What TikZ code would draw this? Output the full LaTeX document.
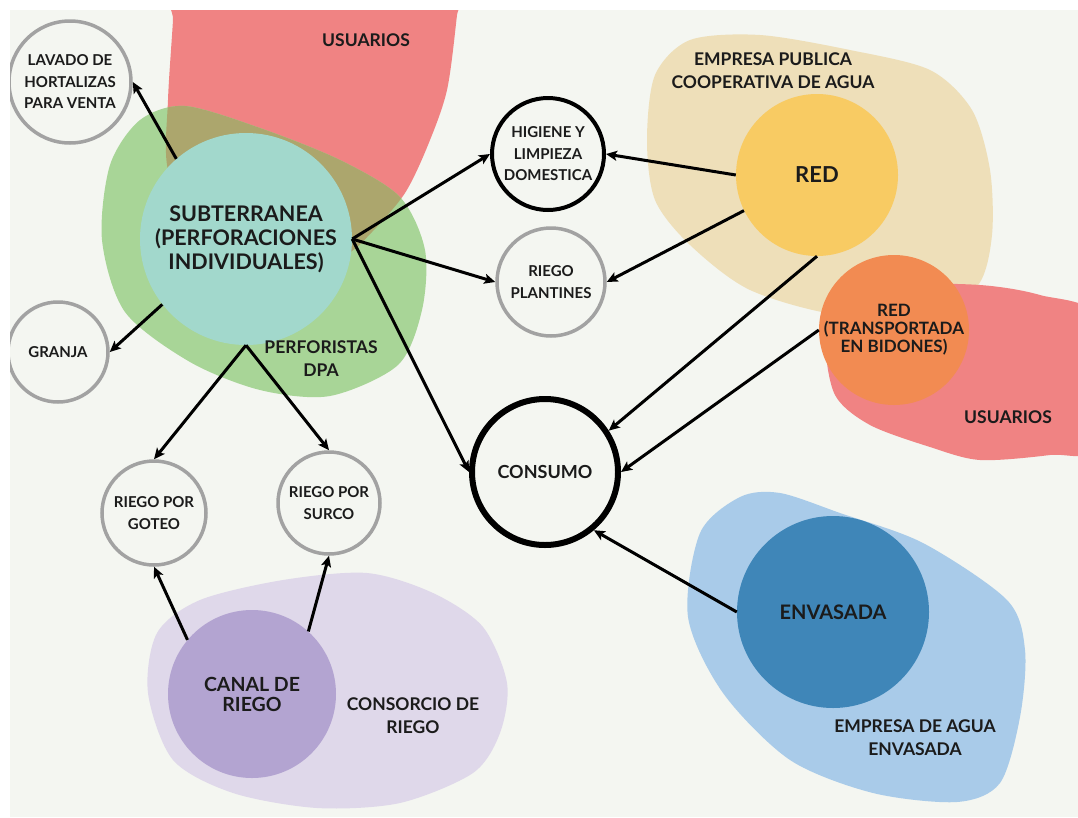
\documentclass[tikz,border=0pt]{standalone}
\usepackage{fontspec}
\setmainfont{Lato}
\usetikzlibrary{arrows.meta}

\definecolor{fondo}{HTML}{F4F6F1}
\definecolor{tinta}{HTML}{1B1B1B}
\definecolor{grisc}{HTML}{A2A2A2}
\definecolor{rosa}{HTML}{F08383}
\definecolor{verde}{HTML}{A8D597}
\definecolor{oliva}{HTML}{ACA66D}
\definecolor{turquesa}{HTML}{A2D8CC}
\definecolor{arena}{HTML}{EEDFB9}
\definecolor{amarillo}{HTML}{F8CB63}
\definecolor{naranja}{HTML}{F28B52}
\definecolor{celeste}{HTML}{A9CBE9}
\definecolor{azul}{HTML}{3F86B8}
\definecolor{lila}{HTML}{DFD8EA}
\definecolor{violeta}{HTML}{B3A4D1}

\newcommand\manchaRosa{plot[smooth cycle] coordinates {(176,-40) (462,-40) (457,15) (447,90) (428,145) (405,193) (372,232) (345,255) (300,262) (200,232) (168,170) (168,100) (173,20)}}
\newcommand\manchaVerde{plot[smooth cycle] coordinates {(185,106) (260,128) (340,160) (400,197) (425,250) (422,310) (398,365) (330,396) (260,390) (190,362) (125,312) (102,240) (110,165) (140,120)}}

\begin{document}
\begin{tikzpicture}[x=1pt, y=-1pt,
    txt/.style={font=\fontsize{15}{21.5}\selectfont\bfseries, align=center, text=tinta},
    lab/.style={font=\fontsize{17.5}{23}\selectfont\bfseries, align=center, text=tinta},
    big/.style={font=\fontsize{21.5}{24}\selectfont\bfseries, align=center, text=tinta},
    gris/.style={circle, draw=grisc, line width=3.5pt, fill=fondo, inner sep=0pt, txt},
    negro/.style={circle, draw=black, line width=4pt, fill=fondo, inner sep=0pt, txt},
    punto/.style={circle, inner sep=0pt},
    flecha/.style={-{Stealth[length=11pt,width=10pt,inset=2.5pt]}, line width=3pt, black}]
  \useasboundingbox (0,0) rectangle (1078,817);
  \fill[white] (0,0) rectangle (1078,817);
  \fill[fondo] (10,10) rectangle (1078,817);
  \clip (10,10) rectangle (1078,817);

  \fill[rosa] \manchaRosa;
  \fill[verde] \manchaVerde;
  \begin{scope}
    \clip \manchaRosa;
    \fill[oliva] \manchaVerde;
  \end{scope}
  \fill[arena] plot[smooth cycle] coordinates {(655,75) (690,40) (760,35) (850,50) (930,70) (972,110) (990,170) (992,235) (978,285) (930,310) (840,315) (750,290) (690,245) (655,200) (647,140)};
  \fill[rosa] plot[smooth cycle] coordinates {(826,340) (845,300) (900,285) (980,285) (1040,295) (1100,320) (1100,445) (1050,455) (980,460) (930,447) (870,425) (835,395)};
  \fill[celeste] plot[smooth cycle] coordinates {(780,493) (840,513) (923,543) (1007,600) (1025,650) (1020,717) (1000,783) (957,802) (873,793) (790,760) (723,693) (688,617) (700,533) (740,497)};
  \fill[lila] plot[smooth cycle] coordinates {(367,573) (433,593) (483,627) (507,683) (500,733) (473,773) (400,803) (317,808) (233,793) (173,760) (148,693) (157,633) (200,600) (283,580)};

  \node[punto, fill=turquesa, minimum size=212pt, big] (sub) at (246,239) {SUBTERRANEA\\(PERFORACIONES\\INDIVIDUALES)};
  \node[punto, fill=amarillo, minimum size=162pt, font=\fontsize{22}{24}\selectfont\bfseries, text=tinta] (red) at (817,175) {RED};
  \node[punto, fill=naranja, minimum size=150pt, font=\fontsize{17}{18}\selectfont\bfseries, align=center, text=tinta] (bid) at (894,330) {RED\\(TRANSPORTADA\\EN BIDONES)};
  \node[punto, fill=azul, minimum size=192pt, font=\fontsize{20}{22}\selectfont\bfseries, text=tinta] (env) at (833,612) {ENVASADA};
  \node[punto, fill=violeta, minimum size=168pt, font=\fontsize{19.5}{20}\selectfont\bfseries, align=center, text=tinta] (can) at (252,694) {CANAL DE\\RIEGO};

  \node[gris, minimum size=122pt] (lav) at (70,82) {LAVADO DE\\HORTALIZAS\\PARA VENTA};
  \node[gris, minimum size=100pt] (gra) at (58,352) {GRANJA};
  \node[negro, minimum size=112pt] (hig) at (548,154) {HIGIENE Y\\LIMPIEZA\\DOMESTICA};
  \node[gris, minimum size=108pt] (pla) at (551,282) {RIEGO\\PLANTINES};
  \node[negro, line width=6pt, minimum size=146pt, font=\fontsize{18}{20}\selectfont\bfseries] (con) at (545,472) {CONSUMO};
  \node[gris, minimum size=104pt] (got) at (154,513) {RIEGO POR\\GOTEO};
  \node[gris, minimum size=102pt] (sur) at (329,503) {RIEGO POR\\SURCO};

  \node[lab] (usu1) at (366,40) {USUARIOS};
  \node[lab] (per) at (321,359) {PERFORISTAS\\DPA};
  \node[lab] (emp) at (773,71) {EMPRESA PUBLICA\\COOPERATIVA DE AGUA};
  \node[lab] (usu2) at (1008,417) {USUARIOS};
  \node[lab] (eae) at (915,738) {EMPRESA DE AGUA\\ENVASADA};
  \node[lab] (cons) at (413,716) {CONSORCIO DE\\RIEGO};

  \draw[flecha] (sub.131) -- (lav.east);
  \draw[flecha] (sub.218) -- (gra.east);
  \draw[flecha] (sub.south) -- (got.north);
  \draw[flecha] (sub.south) -- (sur.north);
  \draw[flecha] (sub.east) -- (hig.west);
  \draw[flecha] (sub.east) -- (pla.west);
  \draw[flecha] (sub.east) -- (con.west);
  \draw[flecha] (red.west) -- (hig.east);
  \draw[flecha] (red.206) -- (pla.east);
  \draw[flecha] (red.south) -- (con.33);
  \draw[flecha] (bid.west) -- (con.east);
  \draw[flecha] (env.west) -- (con.-50);
  \draw[flecha] (can.140) -- (got.south);
  \draw[flecha] (can.48) -- (sur.south);
\end{tikzpicture}
\end{document}
